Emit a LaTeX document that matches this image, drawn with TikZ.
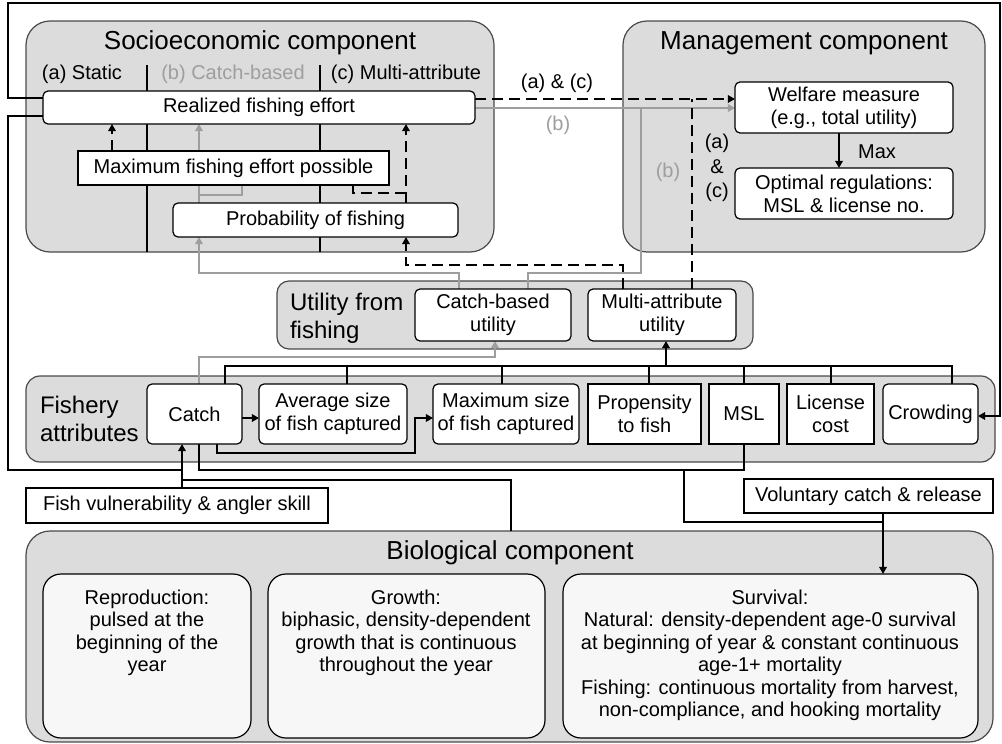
\documentclass[tikz,border=0pt]{standalone}
\usepackage{fontspec}
\setmainfont{Liberation Sans}
\usetikzlibrary{arrows.meta}
\pgfdeclarelayer{back}
\pgfdeclarelayer{mid}
\pgfsetlayers{back,mid,main}
\definecolor{contfill}{HTML}{DCDCDC}
\definecolor{contdraw}{HTML}{4A4A4A}
\definecolor{lg}{HTML}{9E9E9E}
\definecolor{biofill}{HTML}{F7F7F7}
\newcommand\fsn{\fontsize{10}{11.6}\selectfont}
\newcommand\fsb{\fontsize{10}{11.2}\selectfont}
\newcommand\fsw{\fontsize{10}{12.3}\selectfont}
\newcommand\fsm{\fontsize{12}{13.8}\selectfont}
\newcommand\fsl{\fontsize{13}{15}\selectfont}
\newcommand\bx[7]{\pgfmathsetmacro\bxw{(#4-#2)*0.5}\pgfmathsetmacro\bxh{(#5-#3)*0.5}\node[#6,minimum width=\bxw pt,minimum height=\bxh pt] (#1) at ({(#2+#4)/2},{(#3+#5)/2}) {#7};}
\tikzset{
 every node/.style={inner sep=0pt, outer sep=0pt},
 cont/.style={draw=contdraw, fill=contfill, line width=0.6pt},
 rbox/.style={draw=black, fill=white, rounded corners=2.5pt, line width=0.6pt, align=center, font=\fsn},
 sbox/.style={draw=black, fill=white, line width=1.1pt, align=center, font=\fsn},
 bioin/.style={draw=black, fill=biofill, rounded corners=9pt, line width=0.6pt},
 con/.style={draw=black, line width=1.35pt},
 gcon/.style={draw=lg, line width=1pt},
 dcon/.style={draw=black, line width=1.35pt, dash pattern=on 5.5pt off 3pt},
 divl/.style={draw=black, line width=0.6pt},
 arr/.style={-{Triangle[length=3.6pt,width=3.8pt]}},
 lab/.style={font=\fsn, align=center},
 biot/.style={font=\fsb, align=center},
}
\begin{document}
\begin{tikzpicture}[x=0.5pt,y=-0.5pt]
\useasboundingbox (0,0) rectangle (1002,744);
% containers
\begin{pgfonlayer}{back}
\bx{socio}{26}{21}{494}{252}{cont,rounded corners=12pt}{}
\bx{mgmt}{623}{21}{985}{252}{cont,rounded corners=12pt}{}
\bx{util}{277}{281}{753}{349}{cont,rounded corners=6pt}{}
\bx{fish}{26}{376}{995}{462}{cont,rounded corners=7pt}{}
\bx{bio}{26}{531}{993}{742}{cont,rounded corners=12pt}{}
\end{pgfonlayer}
% titles and headers
\node[font=\fsl] (sociot) at (260,43) {Socioeconomic component};
\node[font=\fsn] (ha) at (82,74) {(a) Static};
\node[font=\fsn,text=lg] (hb) at (233,74) {(b) Catch-based};
\node[font=\fsn] (hc) at (406,74) {(c) Multi-attribute};
\node[font=\fsl] (mgmtt) at (804,43) {Management component};
\node[font=\fsm,align=left,anchor=west] (utilt) at (290,318) {Utility from\\fishing};
\node[font=\fsm,align=left,anchor=west] (fisht) at (40,419) {Fishery\\attributes};
\node[font=\fsl] (biot) at (510,553) {Biological component};
% boxes
\bx{real}{43}{91}{475}{124}{rbox}{Realized fishing effort}
\bx{maxe}{78}{151}{389}{185}{sbox}{Maximum fishing effort possible}
\bx{prob}{173}{203}{458}{237}{rbox}{Probability of fishing}
\bx{wel}{735}{82}{953}{133}{rbox}{Welfare measure\\(e.g., total utility)}
\bx{opt}{735}{168}{953}{219}{rbox}{Optimal regulations:\\MSL \& license no.}
\bx{cbu}{415}{289}{571}{341}{rbox}{Catch-based\\utility}
\bx{mau}{588}{289}{736}{341}{rbox}{Multi-attribute\\utility}
\bx{catch}{147}{384}{242}{444}{rbox}{Catch}
\bx{avg}{259}{384}{407}{444}{rbox}{Average size\\of fish captured}
\bx{maxs}{433}{384}{579}{444}{rbox}{Maximum size\\of fish captured}
\bx{prop}{588}{384}{701}{444}{sbox}{Propensity\\to fish}
\bx{msl}{709}{384}{779}{444}{sbox}{MSL}
\bx{lic}{787}{384}{874}{444}{sbox}{License\\cost}
\bx{crowd}{883}{384}{978}{444}{rbox}{Crowding}
\bx{fv}{26}{488}{328}{523}{sbox}{Fish vulnerability \& angler skill}
\bx{vol}{744}{479}{993}{513}{sbox}{Voluntary catch \& release}
\bx{repro}{43}{574}{251}{738}{bioin}{}
\bx{grow}{268}{574}{545}{738}{bioin}{}
\bx{surv}{563}{574}{978}{738}{bioin}{}
\node[biot,anchor=north] (reprot) at (147,590) {Reproduction:\\pulsed at the\\beginning of the\\year};
\node[biot,anchor=north] (growt) at (406,590) {Growth:\\biphasic, density-dependent\\growth that is continuous\\throughout the year};
\node[biot,anchor=north] (survt) at (770,590) {Survival:\\Natural: density-dependent age-0 survival\\at beginning of year \& constant continuous\\age-1+ mortality\\Fishing: continuous mortality from harvest,\\non-compliance, and hooking mortality};
% connector labels
\node[lab] (lac) at (557,83) {(a) \& (c)};
\node[lab,text=lg] (lb1) at (558,125) {(b)};
\node[lab,text=lg] (lb2) at (668,172) {(b)};
\node[lab,font=\fsw] (lac2) at (717,168) {(a)\\\&\\(c)};
\node[lab] (lmax) at (877,152) {Max};
% connectors
\begin{pgfonlayer}{mid}
\draw[divl] (147,65) -- (147,252);
\draw[divl] (320,65) -- (320,252);
% outer loops
\draw[con,arr] (real.west |- 0,98) -- (8,98) -- (8,3) -- (1000,3) -- (1000,416) -- (crowd.east |- 0,416);
\draw[con] (real.west |- 0,116) -- (8,116) -- (8,470) -- (182,470);
\draw[con,arr] (fv.north -| 182,0) -- (catch.south -| 182,0);
\draw[con] (bio.north -| 511,0) -- (511,480) -- (182,480);
\draw[con] (catch.south -| 199,0) -- (199,470) -- (744,470) -- (msl.south);
\draw[con] (684,470) -- (684,522) -- (883,522);
\draw[con,arr] (vol.south -| 883,0) -- (surv.north -| 883,0);
% fishery attributes
\draw[con,arr] (catch.east |- 0,418) -- (avg.west |- 0,418);
\draw[con,arr] (catch.south -| 217,0) -- (217,453) -- (415,453) -- (415,418) -- (maxs.west |- 0,418);
\draw[gcon,arr] (catch.north -| 199,0) -- (199,357) -- (495,357) -- (cbu.south -| 495,0);
\draw[con] (catch.north -| 225,0) -- (225,366) -- (952,366) -- (crowd.north -| 952,0);
\draw[con] (347,366) -- (avg.north -| 347,0);
\draw[con] (502,366) -- (maxs.north -| 502,0);
\draw[con] (649,366) -- (prop.north -| 649,0);
\draw[con] (744,366) -- (msl.north);
\draw[con] (831,366) -- (lic.north -| 831,0);
\draw[con,arr] (666,366) -- (mau.south -| 666,0);
% utility to socioeconomic / management
\draw[gcon,arr] (cbu.north -| 459,0) -- (459,273) -- (199,273) -- (prob.south -| 199,0);
\draw[gcon] (cbu.north -| 528,0) -- (528,273) -- (641,273) -- (641,108);
\draw[gcon,arr] (real.east |- 0,108) -- (wel.west |- 0,108);
\draw[dcon,arr] (real.east |- 0,99) -- (wel.west |- 0,99);
\draw[dcon] (mau.north -| 692,0) -- (692,99);
\draw[dcon,arr] (mau.north -| 623,0) -- (623,265) -- (406,265) -- (prob.south -| 406,0);
% inside socioeconomic
\draw[dcon,arr] (maxe.north -| 112,0) -- (real.south -| 112,0);
\draw[gcon,arr] (prob.north -| 199,0) -- (real.south -| 199,0);
\draw[gcon] (199,195) -- (242,195) -- (maxe.south -| 242,0);
\draw[dcon,arr] (prob.north -| 406,0) -- (real.south -| 406,0);
\draw[dcon] (406,193) -- (353,193) -- (maxe.south -| 353,0);
% management
\draw[con,arr] (wel.south -| 839,0) -- (opt.north -| 839,0);
\end{pgfonlayer}
\end{tikzpicture}
\end{document}
